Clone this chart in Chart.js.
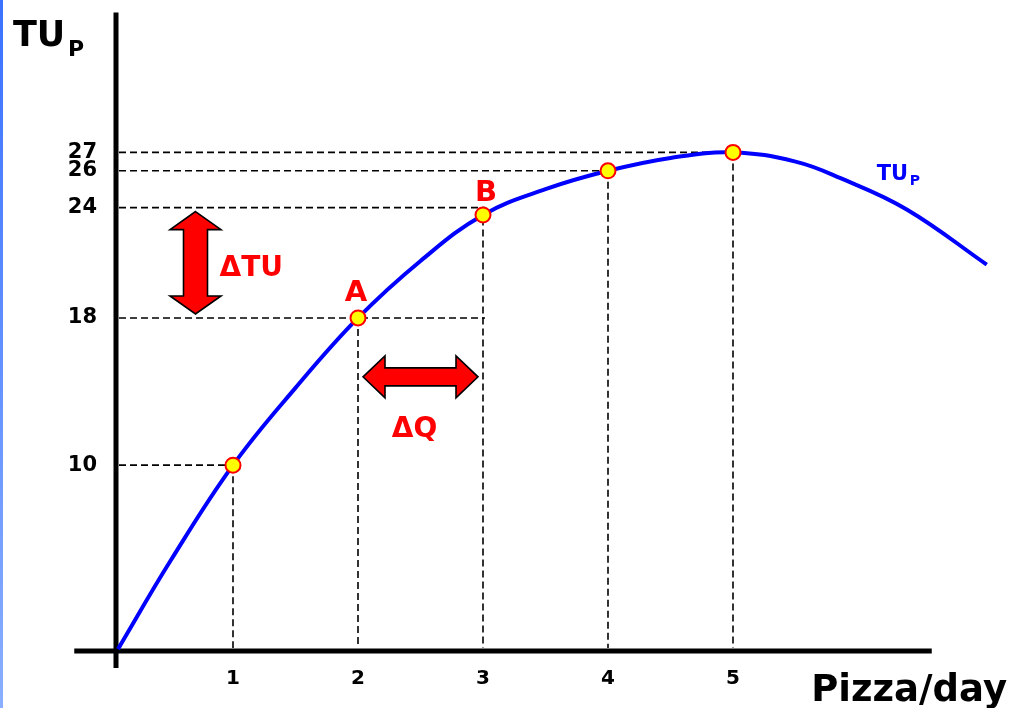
<!DOCTYPE html>
<html>
<head>
<meta charset="utf-8">
<script src="https://cdn.jsdelivr.net/npm/chart.js@4.4.1/dist/chart.umd.min.js"></script>
<style>
  html, body { margin: 0; padding: 0; background: #ffffff; }
  #wrap { position: relative; width: 1012px; height: 708px; overflow: hidden; }
  #edge { position: absolute; left: 0; top: 0; width: 3px; height: 708px;
          background: linear-gradient(#3a72ff, #8aafff); }
  canvas { position: absolute; left: 0; top: 0; }
</style>
</head>
<body>
<div id="wrap">
  <canvas id="tu" width="1012" height="708"></canvas>
  <div id="edge"></div>
</div>
<script>
// Total utility of pizza per day
const quantities   = [1, 2, 3, 4, 5];
const totalUtility = [10, 18, 23.6, 26, 27];

// Sampled points along the TU curve
const curveQ  = [0.08, 0.5, 1, 1.5, 2, 2.5, 3, 3.5, 4, 4.5, 5, 5.5, 5.86, 6.39, 7.03];
const curveTU = [0, 4.8, 10, 14.2, 18, 21.1, 23.6, 25.0, 26, 26.7, 27, 26.5, 25.6, 23.9, 20.9];

// Axis tick labels
const yTickValues = [10, 18, 24, 26, 27];
const xTickValues = [1, 2, 3, 4, 5];

// Dashed guide lines: level on the TU axis and how far along Q it runs
const guideLevels = [10, 18, 24, 26, 27];
const guideReach  = [1, 3, 3, 4, 5];

// Change between points A and B
const deltaQ  = [2, 3];
const deltaTU = [18, 24];

const FONT = "'DejaVu Sans', Verdana, sans-serif";
const X_RANGE = [0, 7.2];
const Y_RANGE = [-0.7, 34];

function doubleArrowV(ctx, cx, top, bottom, headHalf, headLen, shaftHalf) {
  ctx.beginPath();
  ctx.moveTo(cx, top);
  ctx.lineTo(cx + headHalf, top + headLen);
  ctx.lineTo(cx + shaftHalf, top + headLen);
  ctx.lineTo(cx + shaftHalf, bottom - headLen);
  ctx.lineTo(cx + headHalf, bottom - headLen);
  ctx.lineTo(cx, bottom);
  ctx.lineTo(cx - headHalf, bottom - headLen);
  ctx.lineTo(cx - shaftHalf, bottom - headLen);
  ctx.lineTo(cx - shaftHalf, top + headLen);
  ctx.lineTo(cx - headHalf, top + headLen);
  ctx.closePath();
}

function doubleArrowH(ctx, cy, left, right, headHalf, headLen, shaftHalf) {
  ctx.beginPath();
  ctx.moveTo(left, cy);
  ctx.lineTo(left + headLen, cy - headHalf);
  ctx.lineTo(left + headLen, cy - shaftHalf);
  ctx.lineTo(right - headLen, cy - shaftHalf);
  ctx.lineTo(right - headLen, cy - headHalf);
  ctx.lineTo(right, cy);
  ctx.lineTo(right - headLen, cy + headHalf);
  ctx.lineTo(right - headLen, cy + shaftHalf);
  ctx.lineTo(left + headLen, cy + shaftHalf);
  ctx.lineTo(left + headLen, cy + headHalf);
  ctx.closePath();
}

function subscriptText(ctx, main, sub, x, baseline, size, subSize, drop, color) {
  ctx.save();
  ctx.fillStyle = color;
  ctx.textAlign = 'left';
  ctx.textBaseline = 'alphabetic';
  ctx.font = 'bold ' + size + 'px ' + FONT;
  ctx.fillText(main, x, baseline);
  const w = ctx.measureText(main).width;
  ctx.font = 'bold ' + subSize + 'px ' + FONT;
  ctx.fillText(sub, x + w + size * 0.08, baseline + drop);
  ctx.restore();
}

// Axes lines and dashed guides, drawn beneath the curve
const guidesPlugin = {
  id: 'guides',
  beforeDatasetsDraw(chart) {
    const { ctx } = chart;
    const xs = chart.scales.x, ys = chart.scales.y;
    const x0 = xs.getPixelForValue(0) + 8;   // vertical axis line
    const y0 = ys.getPixelForValue(0) + 2;   // horizontal axis line
    ctx.save();

    // dashed guides
    ctx.strokeStyle = '#000';
    ctx.lineWidth = 1.6;
    ctx.setLineDash([7, 4]);
    guideLevels.forEach((lvl, i) => {
      const py = ys.getPixelForValue(lvl);
      const px = xs.getPixelForValue(guideReach[i]);
      ctx.beginPath();
      ctx.moveTo(x0 + 3, py);
      ctx.lineTo(px + 2, py);
      ctx.stroke();
    });
    quantities.forEach((q, i) => {
      const px = xs.getPixelForValue(q);
      const top = ys.getPixelForValue(Math.max(totalUtility[i], guideLevels[i]));
      ctx.beginPath();
      ctx.moveTo(px, top);
      ctx.lineTo(px, y0 - 3);
      ctx.stroke();
    });
    ctx.setLineDash([]);

    // axis lines
    ctx.lineWidth = 5;
    ctx.lineCap = 'butt';
    ctx.beginPath();
    ctx.moveTo(x0, ys.getPixelForValue(34.6));
    ctx.lineTo(x0, y0 + 17);
    ctx.stroke();
    ctx.beginPath();
    ctx.moveTo(xs.getPixelForValue(-0.27), y0);
    ctx.lineTo(xs.getPixelForValue(6.59), y0);
    ctx.stroke();
    ctx.restore();
  },
  afterDatasetsDraw(chart) {
    const { ctx } = chart;
    const xs = chart.scales.x, ys = chart.scales.y;
    ctx.save();

    // ΔTU arrow between the two utility levels
    const vx = xs.getPixelForValue(0.7);
    const vTop = ys.getPixelForValue(deltaTU[1]) + 4;
    const vBot = ys.getPixelForValue(deltaTU[0]) - 4;
    doubleArrowV(ctx, vx, vTop, vBot, 25.5, 18, 12);
    ctx.fillStyle = '#ff0000';
    ctx.fill();
    ctx.lineWidth = 1.6;
    ctx.lineJoin = 'miter';
    ctx.strokeStyle = '#000';
    ctx.stroke();

    // ΔQ arrow between the two quantities
    const hy = ys.getPixelForValue(14.8);
    const hL = xs.getPixelForValue(deltaQ[0]) + 5;
    const hR = xs.getPixelForValue(deltaQ[1]) - 5;
    doubleArrowH(ctx, hy, hL, hR, 21, 22, 9);
    ctx.fillStyle = '#ff0000';
    ctx.fill();
    ctx.stroke();

    // red labels
    ctx.fillStyle = '#ff0000';
    ctx.textBaseline = 'alphabetic';
    ctx.font = 'bold 28px ' + FONT;
    ctx.textAlign = 'left';
    ctx.fillText('\u0394TU', vx + 24, (vTop + vBot) / 2 + 13);
    ctx.textAlign = 'center';
    ctx.fillText('\u0394Q', (hL + hR) / 2 - 6, hy + 60);

    ctx.font = 'bold 29px ' + FONT;
    const ax = xs.getPixelForValue(deltaQ[0]), ay = ys.getPixelForValue(totalUtility[1]);
    ctx.fillText('A', ax - 2, ay - 17);
    const bx = xs.getPixelForValue(deltaQ[1]), by = ys.getPixelForValue(totalUtility[2]);
    ctx.fillText('B', bx + 3, by - 14);

    // curve label
    subscriptText(ctx, 'TU', 'P', xs.getPixelForValue(6.15), ys.getPixelForValue(25.5), 21, 14, 5, '#0000ff');

    // axis titles
    subscriptText(ctx, 'TU', 'P', 13, 46, 35, 22, 10, '#000');
    ctx.fillStyle = '#000';
    ctx.textAlign = 'right';
    ctx.font = 'bold 37px ' + FONT;
    ctx.fillText('Pizza/day', 1007, 701);
    ctx.restore();
  }
};

new Chart(document.getElementById('tu'), {
  type: 'scatter',
  data: {
    datasets: [
      {
        label: 'TU curve',
        data: curveQ.map((q, i) => ({ x: q, y: curveTU[i] })),
        showLine: true,
        borderColor: '#0000ff',
        borderWidth: 4,
        pointRadius: 0,
        tension: 0.4,
        fill: false,
        order: 2
      },
      {
        label: 'Points',
        data: quantities.map((q, i) => ({ x: q, y: totalUtility[i] })),
        showLine: false,
        pointRadius: 7.5,
        pointBorderWidth: 2,
        pointBackgroundColor: '#ffff00',
        pointBorderColor: '#ff0000',
        order: 1
      }
    ]
  },
  options: {
    responsive: false,
    animation: false,
    devicePixelRatio: 1,
    layout: { autoPadding: false, padding: { top: 6, right: 4, left: 0, bottom: 0 } },
    plugins: { legend: { display: false }, tooltip: { enabled: false }, title: { display: false } },
    scales: {
      x: {
        type: 'linear',
        bounds: 'data',
        min: X_RANGE[0],
        max: X_RANGE[1],
        grid: { display: false, drawTicks: false },
        border: { display: false },
        afterBuildTicks(scale) {
          scale.ticks = xTickValues.map(v => ({ value: v }));
          scale.min = X_RANGE[0];
          scale.max = X_RANGE[1];
        },
        afterFit(scale) { scale.height = 46; },
        ticks: {
          autoSkip: false,
          maxRotation: 0,
          padding: 5,
          color: '#000',
          font: { family: FONT, size: 20, weight: 'bold' }
        }
      },
      y: {
        type: 'linear',
        bounds: 'data',
        min: Y_RANGE[0],
        max: Y_RANGE[1],
        grid: { display: false, drawTicks: false },
        border: { display: false },
        afterBuildTicks(scale) {
          scale.ticks = yTickValues.map(v => ({ value: v }));
          scale.min = Y_RANGE[0];
          scale.max = Y_RANGE[1];
        },
        afterFit(scale) { scale.width = 108; },
        ticks: {
          autoSkip: false,
          padding: 11,
          color: '#000',
          font: { family: FONT, size: 21, weight: 'bold' }
        }
      }
    }
  },
  plugins: [guidesPlugin]
});
</script>
</body>
</html>
